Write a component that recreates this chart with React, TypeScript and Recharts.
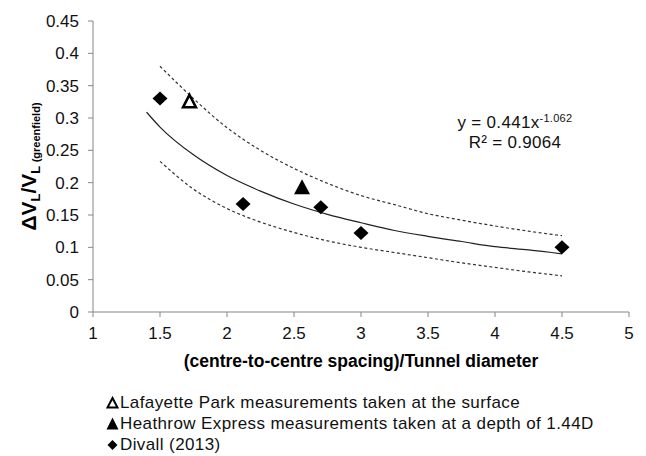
import { ScatterChart, Scatter, XAxis, YAxis } from "recharts";

// axis ticks
const xTicks = [1, 1.5, 2, 2.5, 3, 3.5, 4, 4.5, 5];
const yTicks = [0, 0.05, 0.1, 0.15, 0.2, 0.25, 0.3, 0.35, 0.4, 0.45];

// measured points
const lafayetteX = [1.72];
const lafayetteY = [0.325];
const heathrowX = [2.56];
const heathrowY = [0.192];
const divallX = [1.5, 2.12, 2.7, 3.0, 4.5];
const divallY = [0.33, 0.167, 0.162, 0.122, 0.1];

// trend line and bounds
const fitX = [1.4, 1.5, 1.75, 2, 2.25, 2.5, 2.75, 3, 3.25, 3.5, 3.75, 4, 4.25, 4.5];
const fitY = [0.309, 0.286, 0.243, 0.211, 0.187, 0.167, 0.151, 0.138, 0.126, 0.117, 0.109, 0.101, 0.096, 0.09];
const boundX = [1.5, 1.75, 2, 2.25, 2.5, 2.75, 3, 3.25, 3.5, 3.75, 4, 4.25, 4.5];
const upperY = [0.38, 0.33, 0.285, 0.25, 0.222, 0.199, 0.18, 0.166, 0.152, 0.142, 0.133, 0.125, 0.118];
const lowerY = [0.233, 0.19, 0.16, 0.139, 0.123, 0.11, 0.1, 0.092, 0.084, 0.076, 0.069, 0.062, 0.056];

const legendItems = [
  { label: "Lafayette Park measurements taken at the surface", marker: "open" },
  { label: "Heathrow Express measurements taken at a depth of 1.44D", marker: "tri" },
  { label: "Divall (2013)", marker: "diamond" },
];

const zip = (xs: number[], ys: number[]) => xs.map((x, i) => ({ x, y: ys[i] }));

const FONT = "'Liberation Sans', Arial, sans-serif";
const AXIS = "#868686";

const Diamond = ({ cx, cy }: any) => (
  <polygon points={`${cx},${cy - 7} ${cx + 7.5},${cy} ${cx},${cy + 7} ${cx - 7.5},${cy}`} fill="#000" />
);
const FilledTri = ({ cx, cy }: any) => (
  <polygon points={`${cx},${cy - 8.5} ${cx + 8},${cy + 6.5} ${cx - 8},${cy + 6.5}`} fill="#000" />
);
const OpenTri = ({ cx, cy }: any) => (
  <polygon
    points={`${cx},${cy - 7} ${cx + 6.5},${cy + 5.5} ${cx - 6.5},${cy + 5.5}`}
    fill="#fff"
    stroke="#000"
    strokeWidth={2.5}
    strokeLinejoin="miter"
  />
);
const NoDot = () => <g />;

const YTitle = ({ viewBox }: any) => {
  const cy = viewBox.y + viewBox.height / 2;
  return (
    <text
      transform={`translate(36,${cy}) rotate(-90)`}
      textAnchor="middle"
      fontFamily={FONT}
      fontWeight="bold"
      fill="#000"
    >
      <tspan fontSize={21}>ΔV</tspan>
      <tspan fontSize={13} dy={4}>L</tspan>
      <tspan fontSize={21} dy={-4}>/V</tspan>
      <tspan fontSize={13} dy={4}>L </tspan>
      <tspan fontSize={11}>(greenfield)</tspan>
    </text>
  );
};

const XTitle = ({ viewBox }: any) => (
  <text
    x={viewBox.x + viewBox.width / 2}
    y={viewBox.y + 55}
    textAnchor="middle"
    fontFamily={FONT}
    fontWeight="bold"
    fontSize={17.5}
    fill="#000"
  >
    (centre-to-centre spacing)/Tunnel diameter
  </text>
);

const LegendIcon = ({ kind }: { kind: string }) => (
  <svg width={13} height={13} style={{ marginRight: 1, verticalAlign: "-1px" }}>
    {kind === "open" && (
      <polygon points="6.5,2 11.5,11.5 1.5,11.5" fill="#fff" stroke="#000" strokeWidth={2} />
    )}
    {kind === "tri" && <polygon points="6.5,0.5 12.5,12.5 0.5,12.5" fill="#000" />}
    {kind === "diamond" && <polygon points="6.5,2 11.5,7 6.5,12 1.5,7" fill="#000" />}
  </svg>
);

export default function App() {
  return (
    <div style={{ position: "absolute", left: 0, top: 0, width: 646, height: 456, background: "#fff", fontFamily: FONT }}>
      <ScatterChart width={646} height={456} margin={{ top: 21, right: 17, bottom: 84, left: 0 }}>
        <XAxis
          type="number"
          dataKey="x"
          domain={[1, 5]}
          ticks={xTicks}
          allowDataOverflow
          height={60}
          stroke={AXIS}
          tickSize={5}
          tickMargin={10}
          tick={{ fill: "#111", fontSize: 17, fontFamily: FONT }}
          label={{ content: (p: any) => <XTitle {...p} /> }}
        />
        <YAxis
          type="number"
          dataKey="y"
          domain={[0, 0.45]}
          ticks={yTicks}
          allowDataOverflow
          width={93}
          stroke={AXIS}
          tickSize={5}
          tickMargin={9}
          tick={{ fill: "#111", fontSize: 17, fontFamily: FONT }}
          label={{ content: (p: any) => <YTitle {...p} /> }}
        />
        <Scatter
          data={zip(boundX, upperY)}
          shape={NoDot}
          line={{ stroke: "#333", strokeWidth: 1.2, strokeDasharray: "3 2.5" }}
          lineJointType="monotoneX"
          isAnimationActive={false}
        />
        <Scatter
          data={zip(boundX, lowerY)}
          shape={NoDot}
          line={{ stroke: "#333", strokeWidth: 1.2, strokeDasharray: "3 2.5" }}
          lineJointType="monotoneX"
          isAnimationActive={false}
        />
        <Scatter
          data={zip(fitX, fitY)}
          shape={NoDot}
          line={{ stroke: "#222", strokeWidth: 1.2 }}
          lineJointType="monotoneX"
          isAnimationActive={false}
        />
        <Scatter data={zip(divallX, divallY)} shape={Diamond} isAnimationActive={false} />
        <Scatter data={zip(heathrowX, heathrowY)} shape={FilledTri} isAnimationActive={false} />
        <Scatter data={zip(lafayetteX, lafayetteY)} shape={OpenTri} isAnimationActive={false} />
      </ScatterChart>

      <div
        style={{
          position: "absolute",
          left: 440,
          top: 113,
          width: 150,
          textAlign: "center",
          fontSize: 17,
          lineHeight: "20px",
          color: "#111",
          letterSpacing: 0.3,
        }}
      >
        <div>
          y = 0.441x<sup style={{ fontSize: 11, verticalAlign: "6px", lineHeight: 0 }}>-1.062</sup>
        </div>
        <div>R² = 0.9064</div>
      </div>

      <div
        style={{
          position: "absolute",
          left: 106,
          top: 392,
          fontSize: 17,
          lineHeight: "21px",
          color: "#111",
          letterSpacing: 0.4,
          whiteSpace: "nowrap",
        }}
      >
        {legendItems.map((it) => (
          <div key={it.label}>
            <LegendIcon kind={it.marker} />
            {it.label}
          </div>
        ))}
      </div>
    </div>
  );
}
